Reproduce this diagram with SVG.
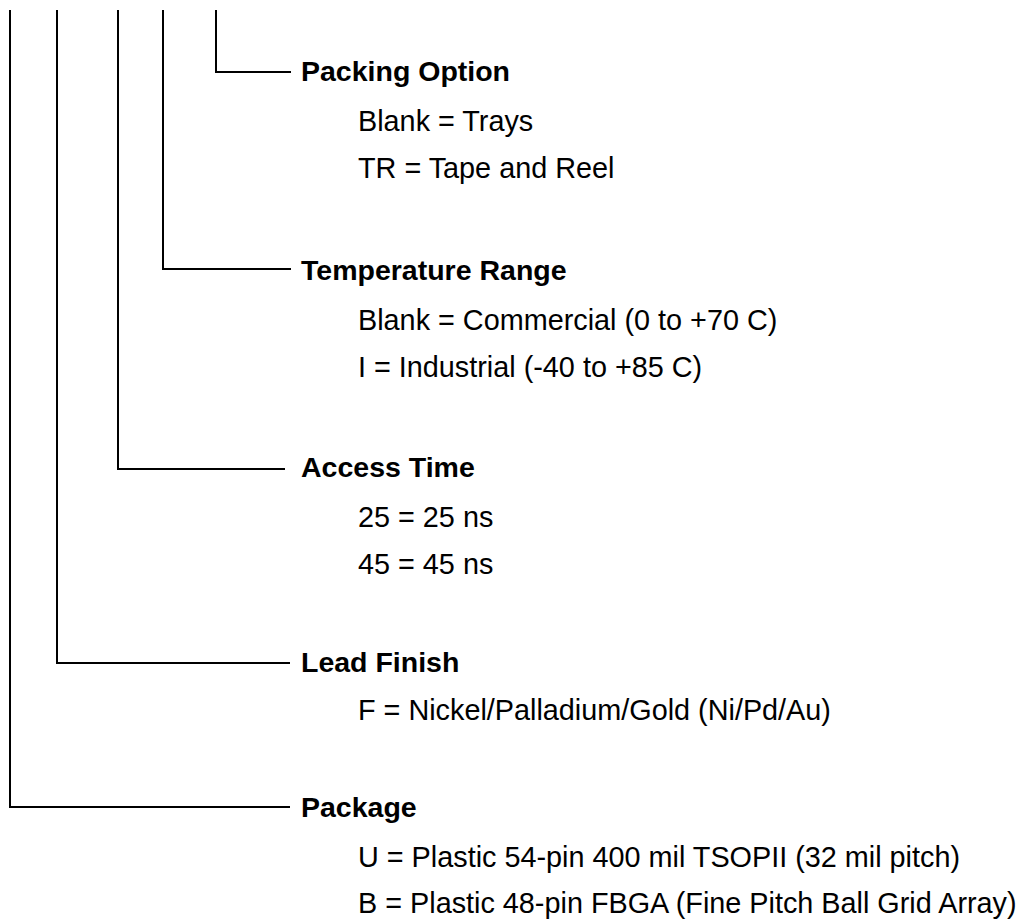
<svg xmlns="http://www.w3.org/2000/svg" width="1029" height="922" viewBox="0 0 1029 922">
<style>
.bg{fill:#ffffff}
.conn{fill:none;stroke:#000;stroke-width:2;stroke-linecap:butt;stroke-linejoin:miter}
text{font-family:"Liberation Sans",Arial,Helvetica,sans-serif;font-size:28.8px;fill:#000}
.h{font-weight:bold;font-size:28.5px}
</style>
<rect class="bg" x="0" y="0" width="1029" height="922"/>
<g id="connectors">
<path class="conn" d="M216,10 V72 H291"/>
<path class="conn" d="M163,10 V269 H291"/>
<path class="conn" d="M118,10 V469 H285"/>
<path class="conn" d="M57,10 V663 H290"/>
<path class="conn" d="M10,10 V807 H290"/>
</g>
<g id="packing-option">
<text class="h" x="301" y="81">Packing Option</text>
<text x="358" y="131">Blank = Trays</text>
<text x="358" y="177.5">TR = Tape and Reel</text>
</g>
<g id="temperature-range">
<text class="h" x="301" y="280">Temperature Range</text>
<text x="358" y="330">Blank = Commercial (0 to +70 C)</text>
<text x="358" y="376.5">I = Industrial (-40 to +85 C)</text>
</g>
<g id="access-time">
<text class="h" x="301" y="477">Access Time</text>
<text x="358" y="527">25 = 25 ns</text>
<text x="358" y="574">45 = 45 ns</text>
</g>
<g id="lead-finish">
<text class="h" x="301" y="672">Lead Finish</text>
<text x="358" y="720">F = Nickel/Palladium/Gold (Ni/Pd/Au)</text>
</g>
<g id="package">
<text class="h" x="301" y="817">Package</text>
<text x="358" y="866.5">U = Plastic 54-pin 400 mil TSOPII (32 mil pitch)</text>
<text x="358" y="912.5">B = Plastic 48-pin FBGA (Fine Pitch Ball Grid Array)</text>
</g>
</svg>
